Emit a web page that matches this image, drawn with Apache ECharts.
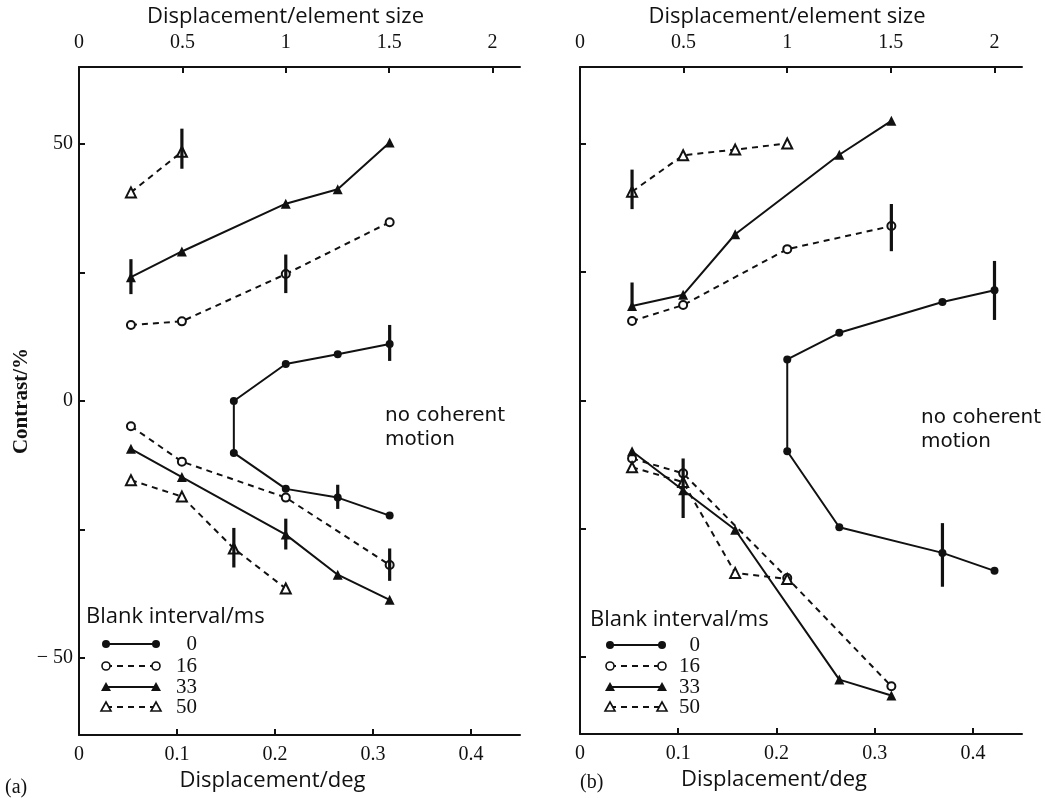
<!DOCTYPE html>
<html><head><meta charset="utf-8">
<script src="https://cdn.jsdelivr.net/npm/echarts@6/dist/echarts.min.js"></script>
<style>html,body{margin:0;padding:0;background:#fff}#c{width:1045px;height:798px}</style>
</head><body><div id="c"></div>
<script>
// ---------- Panel (a) data (x in deg, y in contrast %) ----------
const a0_x = [0.317, 0.264, 0.211, 0.158, 0.158, 0.211, 0.264, 0.317];
const a0_y = [11.1, 9.1, 7.2, 0.0, -10.1, -17.1, -18.8, -22.3];
const a16up_x = [0.053, 0.105, 0.211, 0.317];
const a16up_y = [14.8, 15.5, 24.7, 34.8];
const a16lo_x = [0.053, 0.105, 0.211, 0.317];
const a16lo_y = [-4.9, -11.8, -18.8, -31.9];
const a33up_x = [0.053, 0.105, 0.211, 0.264, 0.317];
const a33up_y = [24.1, 29.1, 38.4, 41.2, 50.3];
const a33lo_x = [0.053, 0.105, 0.211, 0.264, 0.317];
const a33lo_y = [-9.3, -14.8, -26.0, -33.8, -38.7];
const a50up_x = [0.053, 0.105];
const a50up_y = [40.6, 48.5];
const a50lo_x = [0.053, 0.105, 0.158, 0.211];
const a50lo_y = [-15.4, -18.6, -28.7, -36.5];
// error bars: [x, low, high]
const aErr = [[0.105, 45.2, 53.0], [0.053, 20.8, 27.6], [0.211, 21.0, 28.5], [0.317, 7.8, 14.8],
              [0.264, -21.0, -16.3], [0.158, -32.4, -24.7], [0.211, -28.9, -22.9], [0.317, -35.0, -28.7]];

// ---------- Panel (b) data ----------
const b0_x = [0.422, 0.369, 0.264, 0.211, 0.211, 0.264, 0.369, 0.422];
const b0_y = [21.5, 19.2, 13.2, 8.0, -9.9, -24.7, -29.7, -33.2];
const b16up_x = [0.053, 0.105, 0.211, 0.317];
const b16up_y = [15.5, 18.6, 29.5, 34.0];
const b16lo_x = [0.053, 0.105, 0.211, 0.317];
const b16lo_y = [-11.3, -14.2, -34.6, -55.7];
const b33up_x = [0.053, 0.105, 0.158, 0.264, 0.317];
const b33up_y = [18.4, 20.6, 32.4, 47.9, 54.5];
const b33lo_x = [0.053, 0.105, 0.158, 0.264, 0.317];
const b33lo_y = [-9.9, -17.5, -25.2, -54.4, -57.5];
const b50up_x = [0.053, 0.105, 0.158, 0.211];
const b50up_y = [40.7, 47.8, 48.9, 50.1];
const b50lo_x = [0.053, 0.105, 0.158, 0.211];
const b50lo_y = [-13.0, -15.9, -33.6, -34.8];
const bErr = [[0.053, 37.3, 45.0], [0.053, 18.4, 23.0], [0.317, 29.1, 38.3], [0.422, 15.7, 27.2],
              [0.105, -22.9, -11.3], [0.369, -36.3, -23.9]];

// ---------- Axis ticks ----------
const degTicks = [0, 0.1, 0.2, 0.3, 0.4];
const sizeTicks = [0, 0.5, 1, 1.5, 2];
const contrastTicks = [-50, -25, 0, 25, 50];
const contrastLabels = [-50, 0, 50];
const legendNames = ['0', '16', '33', '50'];
const legendTitle = 'Blank interval/ms';
const noteLines = ['no coherent', 'motion'];

const ELEMENT = 0.211; // deg per element size
const XMAX = 0.45;
const INK = '#111';
const SERIF = '"Liberation Serif", serif';
const SANS = '"Open Sans", "DejaVu Sans", sans-serif';

const chart = echarts.init(document.getElementById('c'));

const grids = [
  {left: 79, top: 67, width: 441, height: 668},
  {left: 580, top: 67, width: 442, height: 667}
];

function degAxis(gi) {
  return {
    type: 'value', gridIndex: gi, position: 'bottom', min: 0, max: XMAX,
    axisLine: {show: true, onZero: false, lineStyle: {color: INK, width: 2}},
    axisTick: {show: true, inside: true, length: 6, lineStyle: {color: INK, width: 2}, customValues: degTicks.slice(1)},
    axisLabel: {show: true, margin: 10, color: INK, fontFamily: SERIF, fontSize: 20,
      customValues: degTicks, formatter: v => v === 0 ? '0' : v.toFixed(1)},
    splitLine: {show: false},
    name: 'Displacement/deg', nameLocation: 'middle', nameGap: 30,
    nameTextStyle: {color: INK, fontFamily: SANS, fontSize: 22, padding: [0, 54, 0, 0]}
  };
}
function sizeAxis(gi) {
  return {
    type: 'value', gridIndex: gi, position: 'top', min: 0, max: XMAX / ELEMENT,
    axisLine: {show: true, onZero: false, lineStyle: {color: INK, width: 2}},
    axisTick: {show: true, inside: true, length: 6, lineStyle: {color: INK, width: 2}, customValues: sizeTicks.slice(1)},
    axisLabel: {show: true, margin: 14, color: INK, fontFamily: SERIF, fontSize: 20,
      customValues: sizeTicks, formatter: v => String(v)},
    splitLine: {show: false},
    name: 'Displacement/element size', nameLocation: 'middle', nameGap: 33,
    nameTextStyle: {color: INK, fontFamily: SANS, fontSize: 22, padding: [0, 28, 0, 0]}
  };
}
function contrastAxis(gi, labels) {
  return {
    type: 'value', gridIndex: gi, min: -65, max: 65,
    axisLine: {show: true, onZero: false, lineStyle: {color: INK, width: 2}},
    axisTick: {show: true, inside: true, length: 6, lineStyle: {color: INK, width: 2}, customValues: contrastTicks},
    axisLabel: {show: labels, margin: 6, color: INK, fontFamily: SERIF, fontSize: 20,
      customValues: contrastLabels, formatter: v => v < 0 ? '\u2212 ' + Math.abs(v) : String(v)},
    splitLine: {show: false},
    name: labels ? 'Contrast/%' : '', nameLocation: 'middle', nameGap: 47,
    nameTextStyle: {color: INK, fontFamily: SERIF, fontSize: 21, fontWeight: 'bold'}
  };
}

function line(xai, yai, xs, ys, symbol, dashed) {
  const filled = symbol === 'circle' || symbol === 'triangle';
  return {
    type: 'line', xAxisIndex: xai, yAxisIndex: yai,
    data: xs.map((x, i) => [x, ys[i]]),
    symbol: symbol, symbolSize: symbol.indexOf('riangle') >= 0 ? 10 : 8,
    showSymbol: true, showAllSymbol: true, animation: false, silent: true, z: 3,
    lineStyle: {color: INK, width: 2, type: dashed ? [6, 5] : 'solid'},
    itemStyle: {color: INK, borderColor: INK, borderWidth: filled ? 0 : 1.6}
  };
}
function errBars(xai, yai, arr) {
  return {
    type: 'custom', xAxisIndex: xai, yAxisIndex: yai, animation: false, silent: true, z: 4,
    data: arr, encode: {x: 0, y: [1, 2]},
    renderItem: (params, api) => {
      const p1 = api.coord([api.value(0), api.value(1)]);
      const p2 = api.coord([api.value(0), api.value(2)]);
      return {type: 'line', shape: {x1: p1[0], y1: p1[1], x2: p2[0], y2: p2[1]},
        style: {stroke: INK, lineWidth: 3.2}};
    }
  };
}

const series = [
  line(0, 0, a0_x, a0_y, 'circle', false),
  line(0, 0, a16up_x, a16up_y, 'emptyCircle', true),
  line(0, 0, a16lo_x, a16lo_y, 'emptyCircle', true),
  line(0, 0, a33up_x, a33up_y, 'triangle', false),
  line(0, 0, a33lo_x, a33lo_y, 'triangle', false),
  line(0, 0, a50up_x, a50up_y, 'emptyTriangle', true),
  line(0, 0, a50lo_x, a50lo_y, 'emptyTriangle', true),
  errBars(0, 0, aErr),
  line(2, 1, b0_x, b0_y, 'circle', false),
  line(2, 1, b16up_x, b16up_y, 'emptyCircle', true),
  line(2, 1, b16lo_x, b16lo_y, 'emptyCircle', true),
  line(2, 1, b33up_x, b33up_y, 'triangle', false),
  line(2, 1, b33lo_x, b33lo_y, 'triangle', false),
  line(2, 1, b50up_x, b50up_y, 'emptyTriangle', true),
  line(2, 1, b50lo_x, b50lo_y, 'emptyTriangle', true),
  errBars(2, 1, bErr)
];

// ---------- legend + annotations (graphic) ----------
const styles = [
  {sym: 'circle', fill: true, dash: null},
  {sym: 'circle', fill: false, dash: [6, 5]},
  {sym: 'tri', fill: true, dash: null},
  {sym: 'tri', fill: false, dash: [6, 5]}
];
function marker(sym, fill, cx, cy) {
  const st = {fill: fill ? INK : '#fff', stroke: INK, lineWidth: fill ? 0 : 1.6};
  if (sym === 'circle') return {type: 'circle', shape: {cx: cx, cy: cy, r: 4}, style: st, z: 10};
  return {type: 'polygon', shape: {points: [[cx, cy - 5], [cx + 5, cy + 4], [cx - 5, cy + 4]]}, style: st, z: 10};
}
function legendBlock(x0, titleY, x1, x2, rows, labelRight) {
  const els = [{type: 'text', x: x0, y: titleY, z: 10,
    style: {text: legendTitle, fill: INK, font: '22px ' + SANS, textVerticalAlign: 'middle'}}];
  legendNames.forEach((nm, i) => {
    const y = rows[i], s = styles[i];
    els.push({type: 'line', shape: {x1: x1, y1: y, x2: x2, y2: y}, z: 9,
      style: {stroke: INK, lineWidth: 2, lineDash: s.dash}});
    els.push(marker(s.sym, s.fill, x1, y));
    els.push(marker(s.sym, s.fill, x2, y));
    els.push({type: 'text', x: labelRight, y: y, z: 10,
      style: {text: nm, fill: INK, font: '21px ' + SERIF, textAlign: 'right', textVerticalAlign: 'middle'}});
  });
  return els;
}
function note(x, y1, y2) {
  const f = '20px "DejaVu Sans", sans-serif';
  return [
    {type: 'text', x: x, y: y1, z: 10, style: {text: noteLines[0], fill: INK, font: f, textVerticalAlign: 'middle'}},
    {type: 'text', x: x, y: y2, z: 10, style: {text: noteLines[1], fill: INK, font: f, textVerticalAlign: 'middle'}}
  ];
}
const graphics = [].concat(
  legendBlock(86, 617, 106, 156, [644, 666, 687, 707], 197),
  legendBlock(590, 620, 610, 662, [645, 666, 687, 707], 700),
  note(385, 416, 440),
  note(921, 418, 442),
  [{type: 'text', x: 5, y: 788, z: 10, style: {text: '(a)', fill: INK, font: '20px ' + SERIF, textVerticalAlign: 'middle'}},
   {type: 'text', x: 580, y: 783, z: 10, style: {text: '(b)', fill: INK, font: '20px ' + SERIF, textVerticalAlign: 'middle'}}]
);

chart.setOption({
  backgroundColor: '#fff',
  animation: false,
  grid: grids,
  xAxis: [degAxis(0), sizeAxis(0), degAxis(1), sizeAxis(1)],
  yAxis: [contrastAxis(0, true), contrastAxis(1, false)],
  series: series,
  graphic: graphics
});
</script></body></html>
